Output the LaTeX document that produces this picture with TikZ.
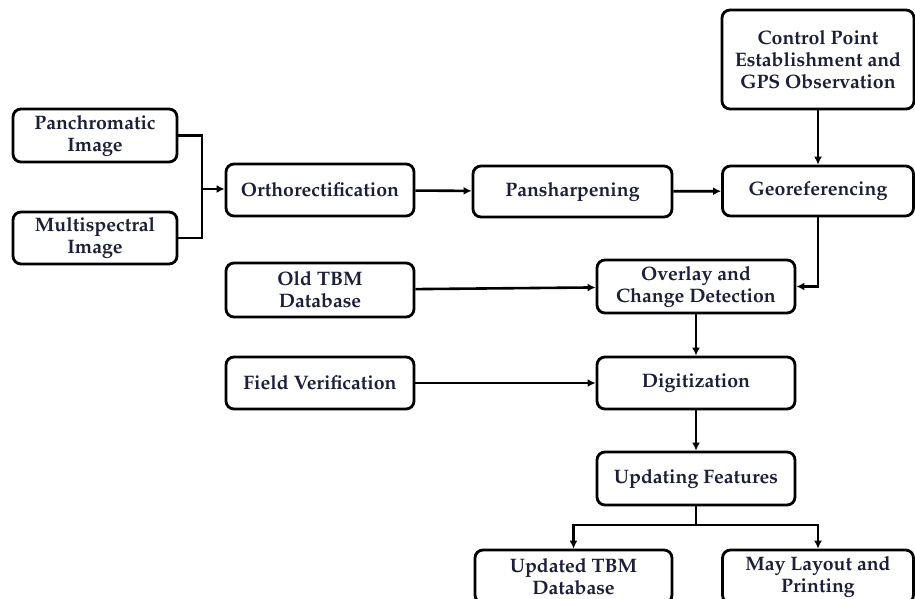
\documentclass[tikz,border=0pt]{standalone}
\usepackage[T1]{fontenc}
\usepackage{mathpazo}
\usetikzlibrary{arrows.meta}
\definecolor{txt}{rgb}{0.11,0.12,0.22}
\tikzset{
  box/.style={draw=black, line width=2.8pt, rounded corners=8pt, fill=white,
    align=center, text=txt, inner sep=0pt,
    font=\fontsize{19.5}{22}\selectfont\bfseries},
  link/.style={line width=2.6pt, -{Latex[length=8pt,width=8pt]}},
  wire/.style={line width=2.6pt}
}
\begin{document}
\begin{tikzpicture}[x=1pt,y=-1pt]
  \useasboundingbox (0,0) rectangle (915,599);
  \clip (0,0) rectangle (915,599);
  \fill[white] (0,0) rectangle (915,599);

  % input images
  \node[box, minimum width=164pt, minimum height=53pt] (pan) at (95,135.5) {Panchromatic\\Image};
  \node[box, minimum width=164pt, minimum height=52pt] (mul) at (95,238) {Multispectral\\Image};

  % main processing chain
  \node[box, minimum width=188pt, minimum height=52pt] (ortho) at (320,190) {Orthorectification};
  \node[box, minimum width=199pt, minimum height=51pt] (pans) at (572.5,191.5) {Pansharpening};
  \node[box, minimum width=191pt, minimum height=50pt] (geo) at (818,191) {Georeferencing};
  \node[box, minimum width=192pt, minimum height=99pt] (cp) at (818,59.5) {Control Point\\Establishment and\\GPS Observation};

  % side inputs
  \node[box, minimum width=188pt, minimum height=54pt] (old) at (320,290) {Old TBM\\Database};
  \node[box, minimum width=188pt, minimum height=52pt] (fld) at (320,383) {Field Verification};

  % central column
  \node[box, minimum width=198pt, minimum height=53pt] (ovl) at (696,286.5) {Overlay and\\Change Detection};
  \node[box, minimum width=198pt, minimum height=52pt] (dig) at (696,383) {Digitization};
  \node[box, minimum width=198pt, minimum height=53pt] (upd) at (696,478.5) {Updating Features};

  % outputs
  \node[box, minimum width=197pt, minimum height=53pt] (utbm) at (573.5,576.5) {Updated TBM\\Database};
  \node[box, minimum width=191pt, minimum height=53pt] (may) at (818,576.5) {May Layout and\\Printing};

  % merging the two images
  \coordinate (join) at (202,189);
  \draw[wire] (pan.east) -| (join);
  \draw[wire] (mul.east) -| (join);
  \draw[link] (join) -- (ortho.west |- join);

  \draw[link] (ortho) -- (pans);
  \draw[link] (pans) -- (geo);
  \draw[link] (cp) -- (geo);
  \draw[link] (geo.south) |- (ovl.east);
  \draw[link] (old) -- (ovl);
  \draw[link] (ovl) -- (dig);
  \draw[link] (fld) -- (dig);
  \draw[link] (dig) -- (upd);

  % split to the two outputs
  \coordinate (split) at (696,525);
  \draw[wire] (upd.south) -- (split);
  \draw[link] (split) -| (utbm.north);
  \draw[link] (split) -| (may.north);
\end{tikzpicture}
\end{document}
